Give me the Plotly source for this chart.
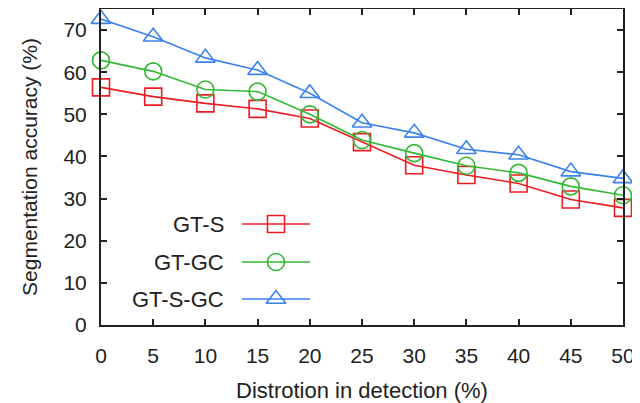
import plotly.graph_objects as go

distortion = [0, 5, 10, 15, 20, 25, 30, 35, 40, 45, 50]
gt_s = [56.4, 54.2, 52.6, 51.3, 49.0, 43.4, 37.9, 35.6, 33.6, 29.8, 27.8]
gt_gc = [62.8, 60.2, 55.9, 55.4, 50.0, 43.9, 40.8, 37.8, 36.1, 32.9, 30.8]
gt_s_gc = [72.6, 68.4, 63.4, 60.5, 55.0, 48.0, 45.6, 41.7, 40.4, 36.4, 34.8]
series_names = ["GT-S", "GT-GC", "GT-S-GC"]
x_ticks = [0, 5, 10, 15, 20, 25, 30, 35, 40, 45, 50]
y_ticks = [0, 10, 20, 30, 40, 50, 60, 70]

colors = ["#ec1c24", "#33b833", "#3b82ec"]
symbols = ["square-open", "circle-open", "triangle-up-open"]
series = [gt_s, gt_gc, gt_s_gc]

FONT = "Liberation Sans, Arial, sans-serif"
fig = go.Figure()
for name, ys, c, s in zip(series_names, series, colors, symbols):
    fig.add_trace(go.Scatter(
        x=distortion, y=ys, mode="lines+markers", name=name,
        line=dict(color=c, width=1.6),
        marker=dict(symbol=s, size=17, color=c, line=dict(color=c, width=1.6)),
        showlegend=False, cliponaxis=False))

# custom legend (text left, sample right) on an invisible pixel-like overlay axis
leg_rows = [224, 262, 299]
for name, c, s, yy in zip(series_names, colors, symbols, leg_rows):
    fig.add_trace(go.Scatter(
        x=[242, 276, 310], y=[yy, yy, yy], mode="lines",
        line=dict(color=c, width=1.6), xaxis="x2", yaxis="y2",
        showlegend=False, hoverinfo="skip"))
    fig.add_trace(go.Scatter(
        x=[276], y=[yy], mode="markers",
        marker=dict(symbol=s, size=17, color=c, line=dict(color=c, width=1.6)),
        xaxis="x2", yaxis="y2", showlegend=False, hoverinfo="skip"))
    fig.add_annotation(x=226, y=yy, xref="x2", yref="y2", text=name,
                       showarrow=False, xanchor="right", yanchor="middle",
                       font=dict(family=FONT, size=22, color="#222"))

axis_common = dict(showgrid=False, zeroline=False, showline=True, linecolor="#222",
                   linewidth=2, ticks="inside", ticklen=6, tickwidth=2, tickcolor="#222",
                   mirror="ticks", automargin=False,
                   tickfont=dict(family=FONT, size=21, color="#222"))

fig.update_layout(
    width=632, height=395,
    margin=dict(l=93, r=17, t=1, b=78),
    paper_bgcolor="white", plot_bgcolor="white",
    xaxis=dict(range=[0, 50], tickvals=x_ticks, ticktext=[str(v) for v in x_ticks],
               ticklabelstandoff=11,
               title=dict(text="Distrotion in detection (%)", standoff=18,
                          font=dict(family=FONT, size=22, color="#222")),
               **axis_common),
    yaxis=dict(range=[0, 75], tickvals=y_ticks, ticktext=[str(v) for v in y_ticks],
               ticklabelstandoff=8,
               title=dict(text="Segmentation accuracy (%)", standoff=20,
                          font=dict(family=FONT, size=21, color="#222")),
               **axis_common),
    xaxis2=dict(range=[101, 623], overlaying="x", visible=False, fixedrange=True),
    yaxis2=dict(range=[325, 9], overlaying="y", visible=False, fixedrange=True),
    showlegend=False,
)

fig.write_html("out.html")
